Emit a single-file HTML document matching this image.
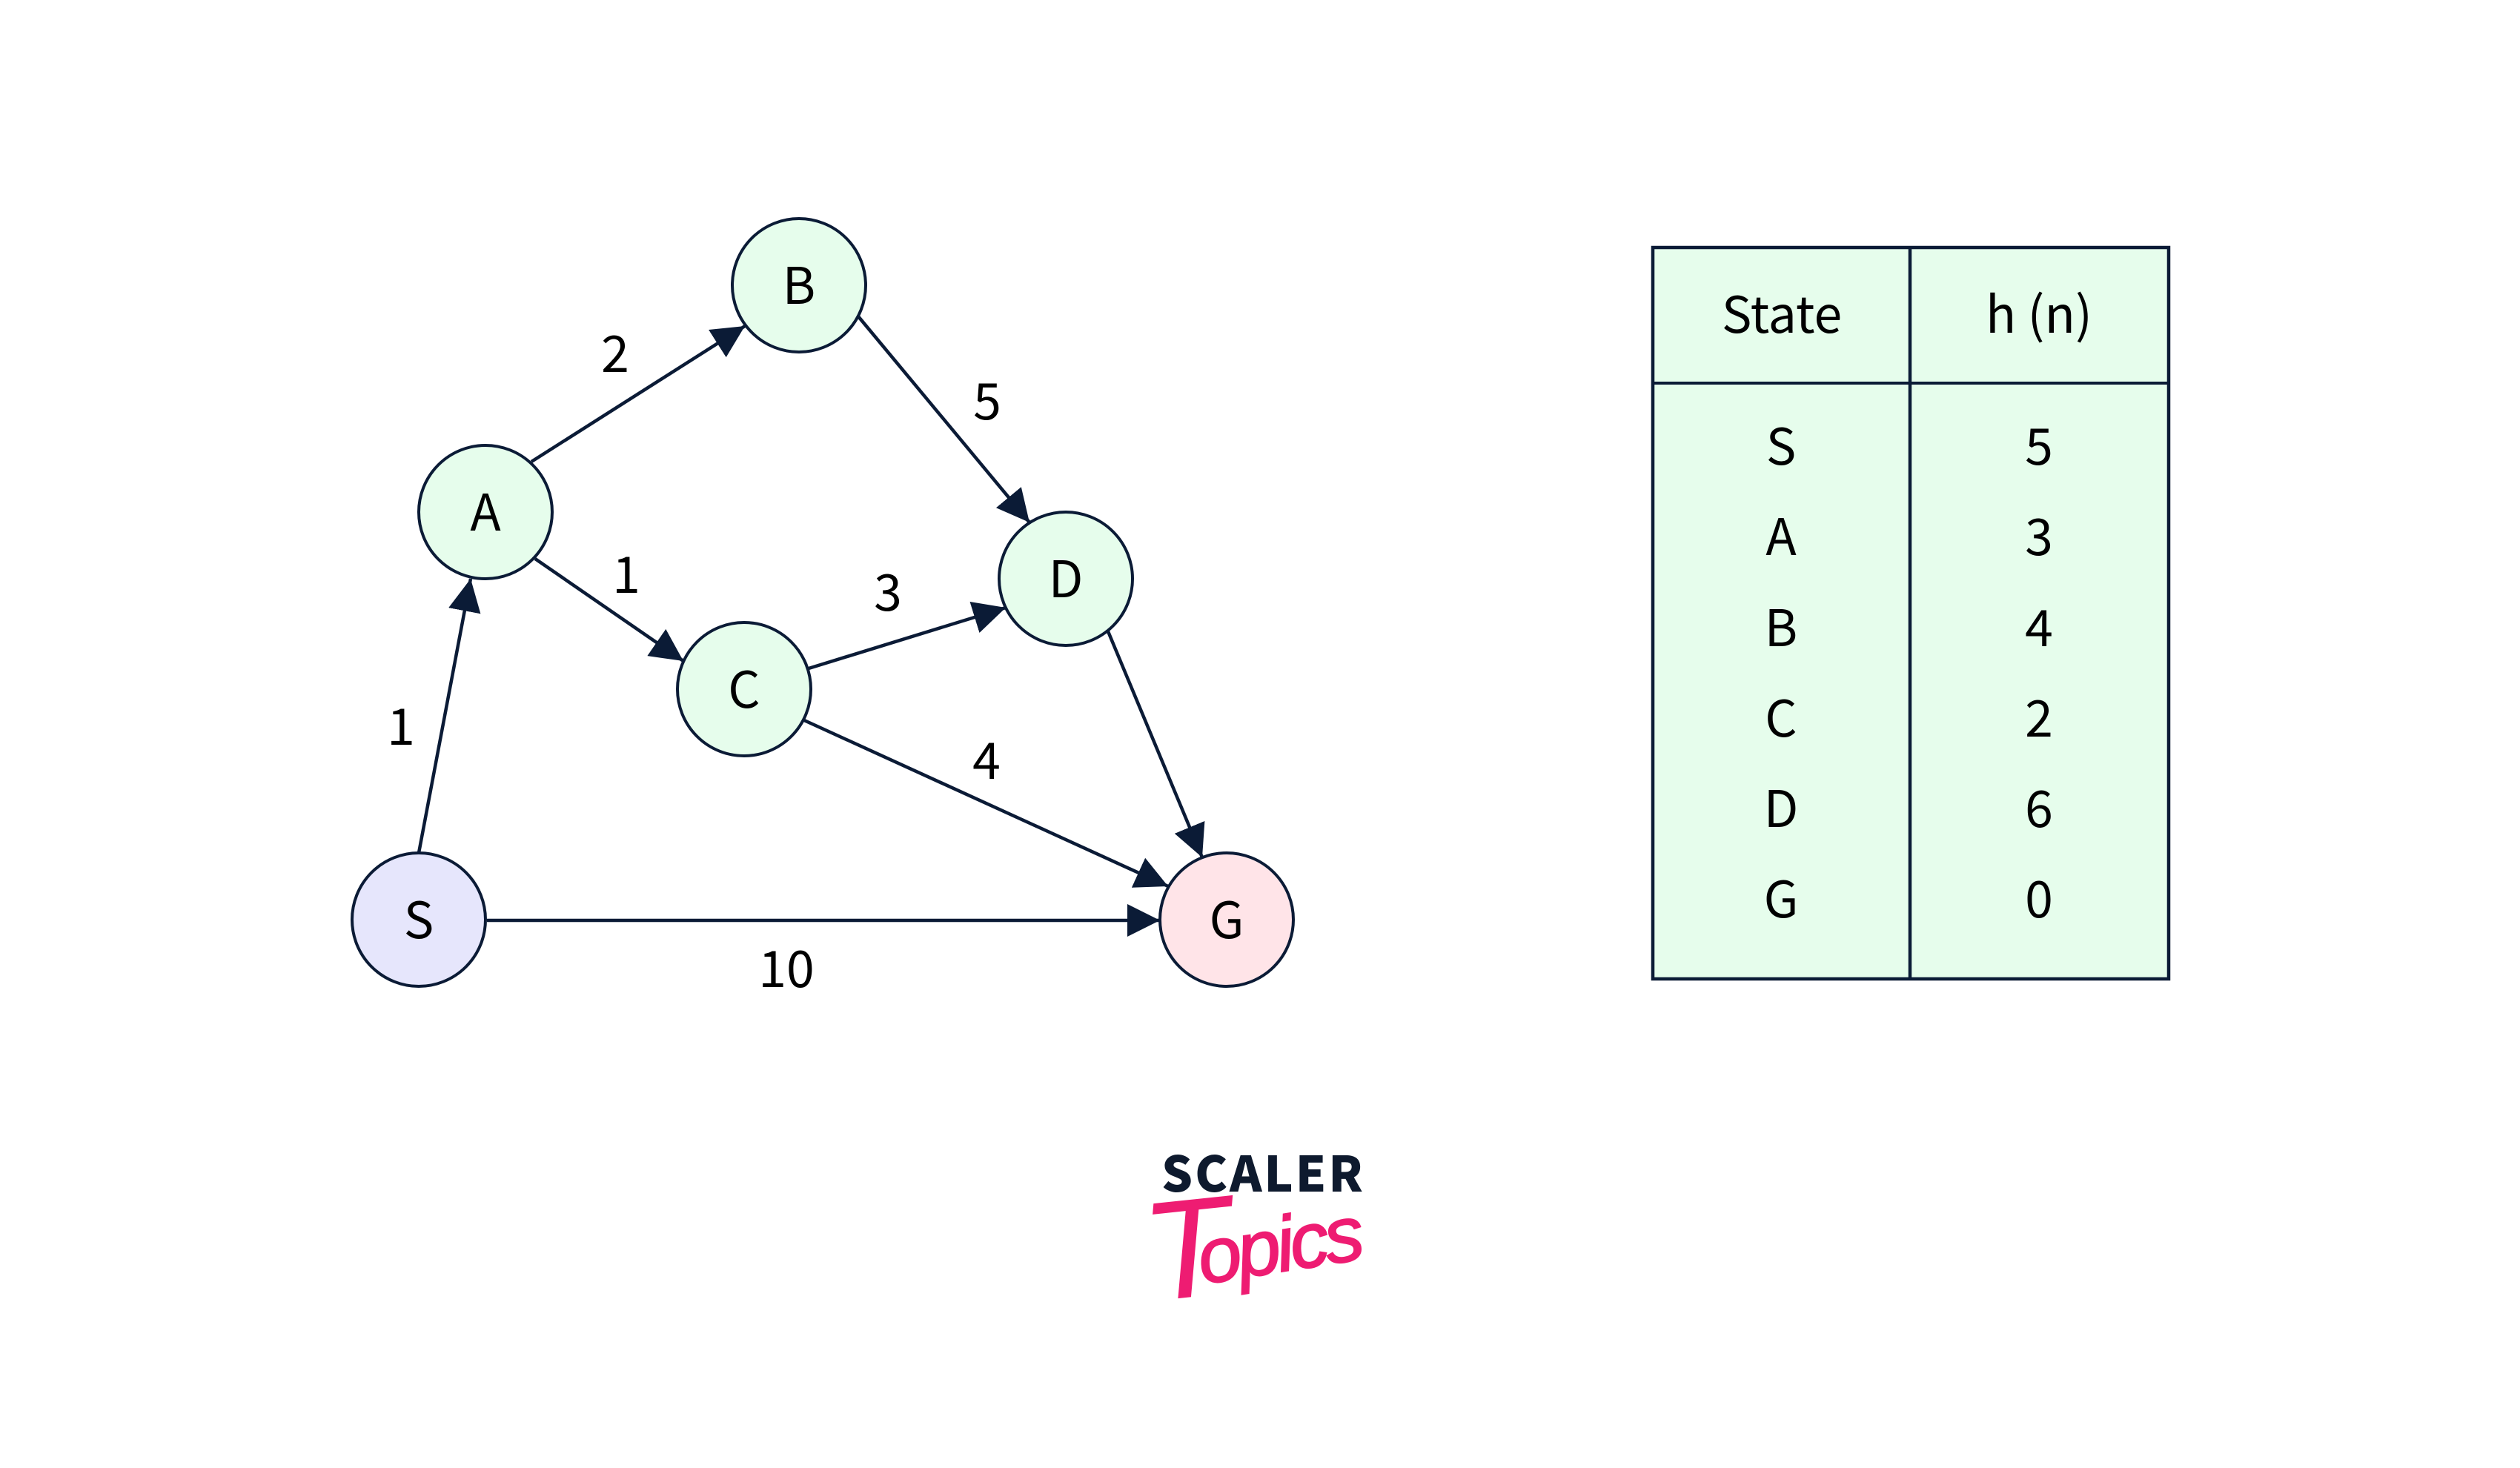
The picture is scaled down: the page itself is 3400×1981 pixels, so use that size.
<!DOCTYPE html>
<html>
<head>
<meta charset="utf-8">
<style>
html,body{margin:0;padding:0;background:#fff;width:3400px;height:1981px;overflow:hidden}
svg{display:block}
.t{font-family:"Noto Sans CJK JP","Liberation Sans",sans-serif;font-size:68px;fill:#000;text-anchor:middle}
</style>
</head>
<body>
<svg width="3400" height="1981" viewBox="0 0 3400 1981" xmlns="http://www.w3.org/2000/svg">
<defs>
<marker id="a" markerUnits="userSpaceOnUse" markerWidth="46" markerHeight="44" refX="44" refY="22" orient="auto">
<path d="M0 0L44 22L0 44z" fill="#0b1b36"/>
</marker>
</defs>
<rect width="3400" height="1981" fill="#fff"/>
<g stroke="#0b1b36" stroke-width="4.5" fill="none">
<line x1="565" y1="1151" x2="635" y2="781" marker-end="url(#a)"/>
<line x1="717" y1="623" x2="1005" y2="440" marker-end="url(#a)"/>
<line x1="1158" y1="427" x2="1389" y2="705" marker-end="url(#a)"/>
<line x1="722" y1="754" x2="922" y2="892" marker-end="url(#a)"/>
<line x1="1091" y1="902" x2="1357" y2="820" marker-end="url(#a)"/>
<line x1="1085" y1="972" x2="1576" y2="1196" marker-end="url(#a)"/>
<line x1="1495" y1="852" x2="1622" y2="1157" marker-end="url(#a)"/>
<line x1="657" y1="1242" x2="1565" y2="1242" marker-end="url(#a)"/>
</g>
<g stroke="#0b1b36" stroke-width="4">
<circle cx="565" cy="1241" r="90" fill="#e6e6fc"/>
<circle cx="655" cy="691" r="90" fill="#e6fdec"/>
<circle cx="1078" cy="385" r="90" fill="#e6fdec"/>
<circle cx="1004" cy="930" r="90" fill="#e6fdec"/>
<circle cx="1438" cy="781" r="90" fill="#e6fdec"/>
<circle cx="1655" cy="1241" r="90" fill="#ffe4e8"/>
</g>
<g>
<text class="t" x="565" y="1266">S</text>
<text class="t" x="655" y="716">A</text>
<text class="t" x="1078" y="410">B</text>
<text class="t" x="1004" y="955">C</text>
<text class="t" x="1438" y="806">D</text>
<text class="t" x="1655" y="1266">G</text>
<text class="t" x="541" y="1005">1</text>
<text class="t" x="830" y="502">2</text>
<text class="t" x="1332" y="566">5</text>
<text class="t" x="845" y="800">1</text>
<text class="t" x="1198" y="824">3</text>
<text class="t" x="1331" y="1051">4</text>
<text class="t" x="1061" y="1332">10</text>
</g>
<rect x="2230" y="334" width="696" height="987" fill="#e6fdec" stroke="#0b1b36" stroke-width="4.5"/>
<line x1="2230" y1="517" x2="2926" y2="517" stroke="#0b1b36" stroke-width="4"/>
<line x1="2577" y1="334" x2="2577" y2="1321" stroke="#0b1b36" stroke-width="4.5"/>
<text class="t" x="2404" y="449">State</text>
<text class="t" x="2751" y="449">h (n)</text>
<text class="t" x="2403" y="627">S</text><text class="t" x="2751" y="627">5</text>
<text class="t" x="2403" y="749">A</text><text class="t" x="2751" y="749">3</text>
<text class="t" x="2403" y="872">B</text><text class="t" x="2751" y="872">4</text>
<text class="t" x="2403" y="994">C</text><text class="t" x="2751" y="994">2</text>
<text class="t" x="2403" y="1116">D</text><text class="t" x="2751" y="1116">6</text>
<text class="t" x="2403" y="1238">G</text><text class="t" x="2751" y="1238">0</text>
<text x="1567" y="1608" font-family="'Noto Sans CJK JP','Liberation Sans',sans-serif" font-weight="900" font-size="66" fill="#0e1a2e" textLength="272" lengthAdjust="spacing">SCALER</text>
<g font-family="'Liberation Sans',sans-serif" font-style="italic" fill="#ee1c72">
<text x="1550" y="1751" font-size="190" transform="rotate(-6 1600 1751)">T</text>
<text x="1622" y="1733" font-size="105" stroke="#ee1c72" stroke-width="2" transform="rotate(-9 1622 1733)" textLength="225" lengthAdjust="spacing">opics</text>
</g>
</svg>
</body>
</html>
